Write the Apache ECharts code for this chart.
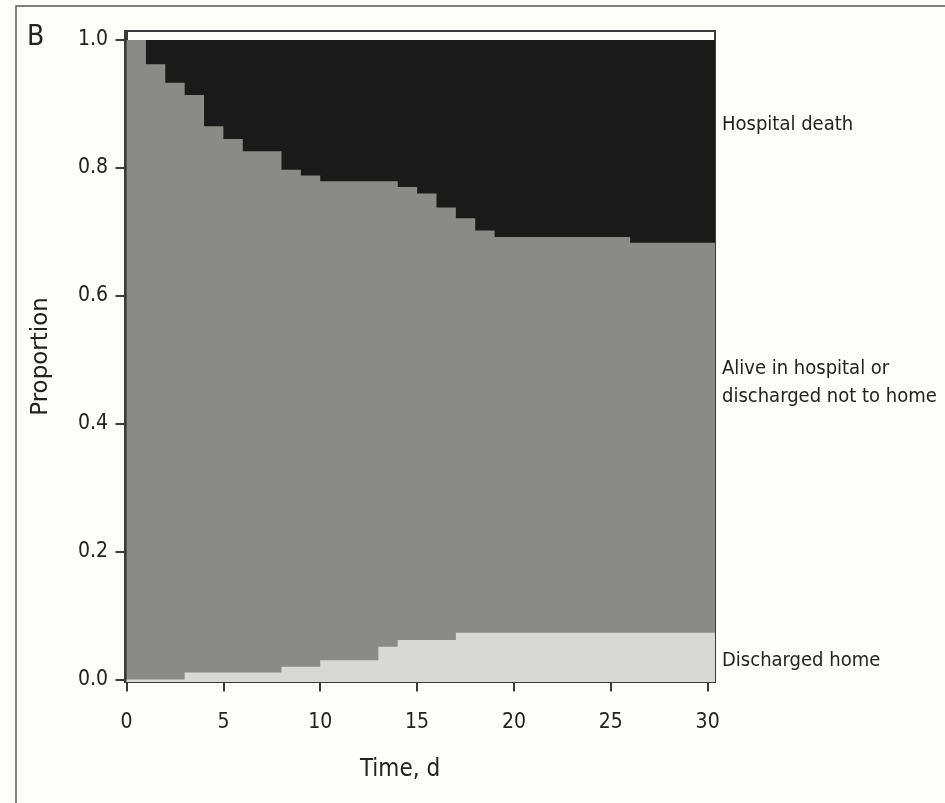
<!DOCTYPE html>
<html>
<head>
<meta charset="utf-8">
<script src="https://cdn.jsdelivr.net/npm/echarts@6/dist/echarts.min.js"></script>
<style>
html,body{margin:0;padding:0;background:#fdfdfa;}
#chart{width:945px;height:803px;}
</style>
</head>
<body>
<div id="chart"></div>
<script>
// Day index 0..30 (value holds on [day, day+1))
const days = [0,1,2,3,4,5,6,7,8,9,10,11,12,13,14,15,16,17,18,19,20,21,22,23,24,25,26,27,28,29,30];
// Proportion discharged home
const dischargedHome = [0,0,0,0.011,0.011,0.011,0.011,0.011,0.020,0.020,0.030,0.030,0.030,0.051,0.0615,0.0615,0.0615,0.073,0.073,0.073,0.073,0.073,0.073,0.073,0.073,0.073,0.073,0.073,0.073,0.073,0.073];
// Proportion hospital death (cumulative)
const hospitalDeath = [0,0.038,0.067,0.086,0.135,0.155,0.174,0.174,0.203,0.212,0.221,0.221,0.221,0.221,0.230,0.240,0.262,0.279,0.298,0.308,0.308,0.308,0.308,0.308,0.308,0.308,0.317,0.317,0.317,0.317,0.317];
const xTicks = [0,5,10,15,20,25,30];
const yTicks = [0,0.2,0.4,0.6,0.8,1.0];
const X_MIN = -0.08, X_MAX = 30.38, Y_MIN = -0.004, Y_MAX = 1.014;

// alive = remainder of the population
const alive = days.map((d,i)=> 1 - dischargedHome[i] - hospitalDeath[i]);
// cumulative band tops (bottom band first)
const topHome = dischargedHome.slice();
const topAlive = days.map((d,i)=> dischargedHome[i] + alive[i]);
const topDeath = days.map((d,i)=> dischargedHome[i] + alive[i] + hospitalDeath[i]);

function toPairs(arr){
  const pts = days.map((d,i)=>[d, arr[i]]);
  pts.push([X_MAX, arr[arr.length-1]]);
  return pts;
}

const NARROW = "'Liberation Sans Narrow','Arial Narrow','DejaVu Sans Condensed','Liberation Sans',sans-serif";
const TXT = '#222';

const chart = echarts.init(document.getElementById('chart'), null, {renderer:'canvas'});
chart.setOption({
  backgroundColor:'#fdfdfa',
  animation:false,
  grid:{left:125, top:31, right:230, bottom:121, show:true, borderColor:'#3a3a3a', borderWidth:2, backgroundColor:'transparent', containLabel:false, outerBoundsMode:'none'},
  xAxis:{
    type:'value', min:X_MIN, max:X_MAX,
    axisLine:{show:true, lineStyle:{color:'#3a3a3a', width:2}},
    axisTick:{show:true, length:12, lineStyle:{color:'#3a3a3a', width:2}, customValues:xTicks},
    axisLabel:{fontFamily:NARROW, fontSize:21, color:TXT, margin:30, customValues:xTicks, formatter:v=>String(v)},
    splitLine:{show:false}
  },
  yAxis:{
    type:'value', min:Y_MIN, max:Y_MAX,
    name:'Proportion', nameLocation:'middle', nameGap:72,
    nameTextStyle:{fontFamily:"'DejaVu Sans',sans-serif", fontSize:23, color:TXT},
    axisLine:{show:true, lineStyle:{color:'#3a3a3a', width:2}},
    axisTick:{show:true, length:11, lineStyle:{color:'#3a3a3a', width:2}, customValues:yTicks},
    axisLabel:{fontFamily:NARROW, fontSize:21, color:TXT, margin:17, customValues:yTicks, formatter:v=>v.toFixed(1)},
    splitLine:{show:false}
  },
  series:[
    {name:'Hospital death', type:'line', step:'end', symbol:'none', data:toPairs(topDeath),
     lineStyle:{width:0}, areaStyle:{color:'#1a1a1a', opacity:1, origin:'start'}, z:2},
    {name:'Alive in hospital or discharged not to home', type:'line', step:'end', symbol:'none', data:toPairs(topAlive),
     lineStyle:{width:0}, areaStyle:{color:'#8a8b86', opacity:1, origin:'start'}, z:3},
    {name:'Discharged home', type:'line', step:'end', symbol:'none', data:toPairs(topHome),
     lineStyle:{width:0}, areaStyle:{color:'#d8d9d5', opacity:1, origin:'start'}, z:4}
  ],
  graphic:[
    {type:'polyline', silent:true, shape:{points:[[16,803],[16,6],[945,6]]}, style:{stroke:'#555', lineWidth:1.5, fill:null}},
    {type:'text', x:27, y:38, style:{text:'B', font:"28px "+NARROW, fill:TXT, verticalAlign:'middle'}},
    {type:'text', x:400, y:770, style:{text:'Time, d', font:"24px "+NARROW, fill:TXT, align:'center', verticalAlign:'middle'}},
    {type:'text', x:722, y:125, style:{text:'Hospital death', font:"20px "+NARROW, fill:TXT, verticalAlign:'middle'}},
    {type:'text', x:722, y:383, style:{text:'Alive in hospital or\ndischarged not to home', font:"20px "+NARROW, lineHeight:28, fill:TXT, verticalAlign:'middle'}},
    {type:'text', x:722, y:661, style:{text:'Discharged home', font:"20px "+NARROW, fill:TXT, verticalAlign:'middle'}}
  ]
});
</script>
</body>
</html>
